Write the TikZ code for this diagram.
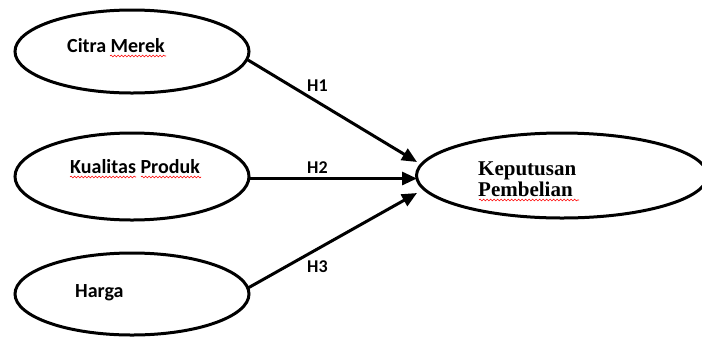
\documentclass[tikz,border=0pt]{standalone}
\usepackage{fontspec}
\setmainfont{Carlito}
\newfontfamily\serifbold{Liberation Serif}
\usetikzlibrary{arrows.meta,calc,decorations.pathmorphing,shapes.geometric}
\begin{document}
\begin{tikzpicture}[x=1bp,y=-1bp,
  oval/.style={draw=black, line width=3bp, ellipse, inner sep=0pt, outer sep=0pt},
  lbl/.style={anchor=base west, inner sep=0pt, font=\fontsize{20bp}{24bp}\selectfont\bfseries},
  hlbl/.style={anchor=base west, inner sep=0pt, font=\fontsize{18bp}{22bp}\selectfont\bfseries},
  slbl/.style={anchor=base west, inner sep=0pt, font=\fontsize{21bp}{25bp}\selectfont\serifbold\bfseries},
  arr/.style={line width=3bp, -{Triangle[length=15bp,width=13bp]}},
  squig/.style={draw=red, line width=0.6bp, decorate, decoration={snake, amplitude=0.9bp, segment length=3.5bp}}]
\useasboundingbox (0,0) rectangle (702,340);
\clip (0,0) rectangle (702,340);
% ellipses
\node[oval, minimum width=234bp, minimum height=83bp] (cm) at (132,51.5) {};
\node[oval, minimum width=234bp, minimum height=87bp] (kq) at (132,176.5) {};
\node[oval, minimum width=234bp, minimum height=82bp] (hg) at (132,294) {};
\node[oval, minimum width=291bp, minimum height=85bp] (kp) at (562,175.5) {};
% texts
\node[lbl] (cmT) at (67,52) {Citra Merek};
\node[lbl] (kqT) at (70,173) {Kualitas Produk};
\node[lbl] (hgT) at (75,297) {Harga};
\node[slbl] (kp1) at (478,175) {Keputusan};
\node[slbl] (kp2) at (478,196) {Pembelian};
% spell-check underlines
\draw[squig] (110,56) -- (166,56);
\draw[squig] (70,177) -- (136,177);
\draw[squig] (141,177) -- (201,177);
\draw[squig] (479,200) -- (579,200);
% arrows
\draw[arr] ($(cm.east)+(-1,8.5)$) -- ($(kp.west)+(0.5,-13.5)$);
\draw[arr] ($(kq.east)+(0,2)$) -- ($(kp.west)+(0.5,3)$);
\draw[arr] ($(hg.east)+(-1,-6)$) -- ($(kp.west)+(0.5,17.5)$);
% hypothesis labels
\node[hlbl] (h1) at (307,91) {H1};
\node[hlbl] (h2) at (307,173) {H2};
\node[hlbl] (h3) at (307,272) {H3};
\end{tikzpicture}
\end{document}
